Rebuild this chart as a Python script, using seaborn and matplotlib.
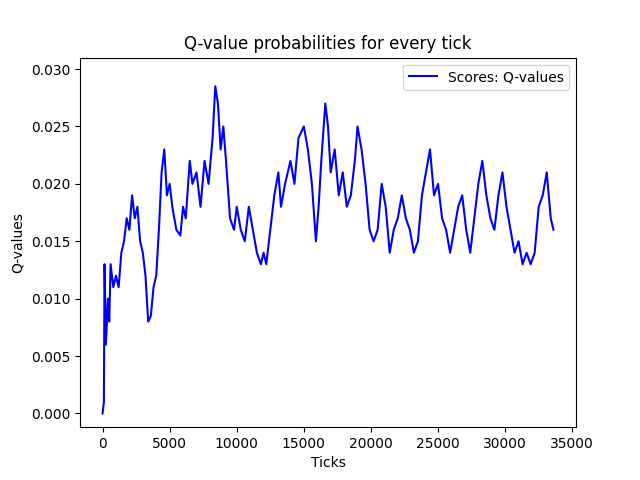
import matplotlib
matplotlib.use("Agg")
import matplotlib.pyplot as plt
import seaborn as sns
import pandas as pd

ticks = [0, 100, 150, 250, 400, 500, 600, 800, 1000, 1200, 1400, 1600, 1800, 2000, 2200, 2400, 2600, 2800, 3000, 3200,
         3400, 3600, 3800, 4000, 4200, 4400, 4600, 4800, 5000, 5200, 5500, 5800, 6000, 6200, 6500, 6700, 7000, 7300, 7600, 7900,
         8200, 8400, 8600, 8800, 9000, 9200, 9500, 9800, 10000, 10300, 10600, 10900, 11200, 11500, 11800, 12000, 12200, 12500, 12800, 13100,
         13300, 13600, 14000, 14300, 14600, 15000, 15300, 15600, 15900, 16100, 16300, 16600, 16800, 17000, 17300, 17600, 17900, 18200, 18500, 18800,
         19000, 19300, 19600, 19900, 20200, 20500, 20800, 21100, 21400, 21700, 22000, 22300, 22600, 22900, 23200, 23500, 23800, 24100, 24400, 24700,
         25000, 25300, 25600, 25900, 26200, 26500, 26800, 27100, 27400, 27700, 28000, 28300, 28600, 28900, 29200, 29500, 29800, 30100, 30400, 30700,
         31000, 31300, 31600, 31900, 32200, 32500, 32800, 33100, 33400, 33600]
qvalues = [0.000, 0.001, 0.013, 0.006, 0.010, 0.008, 0.013, 0.011, 0.012, 0.011, 0.014, 0.015, 0.017, 0.016, 0.019, 0.017, 0.018, 0.015, 0.014, 0.012,
           0.008, 0.0085, 0.011, 0.012, 0.016, 0.021, 0.023, 0.019, 0.020, 0.018, 0.016, 0.0155, 0.018, 0.017, 0.022, 0.020, 0.021, 0.018, 0.022, 0.020,
           0.024, 0.0285, 0.027, 0.023, 0.025, 0.022, 0.017, 0.016, 0.018, 0.016, 0.015, 0.018, 0.016, 0.014, 0.013, 0.014, 0.013, 0.016, 0.019, 0.021,
           0.018, 0.020, 0.022, 0.020, 0.024, 0.025, 0.023, 0.020, 0.015, 0.018, 0.022, 0.027, 0.025, 0.021, 0.023, 0.019, 0.021, 0.018, 0.019, 0.022,
           0.025, 0.023, 0.020, 0.016, 0.015, 0.016, 0.020, 0.018, 0.014, 0.016, 0.017, 0.019, 0.017, 0.016, 0.014, 0.015, 0.019, 0.021, 0.023, 0.019,
           0.020, 0.017, 0.016, 0.014, 0.016, 0.018, 0.019, 0.016, 0.014, 0.017, 0.020, 0.022, 0.019, 0.017, 0.016, 0.019, 0.021, 0.018, 0.016, 0.014,
           0.015, 0.013, 0.014, 0.013, 0.014, 0.018, 0.019, 0.021, 0.017, 0.016]

df = pd.DataFrame({"Ticks": ticks, "Q-values": qvalues})
fig, ax = plt.subplots(figsize=(6.4, 4.8), dpi=100)
sns.lineplot(data=df, x="Ticks", y="Q-values", color="blue", ax=ax, label="Scores: Q-values")
ax.set_ylim(-0.0012, 0.0310)
ax.set_title("Q-value probabilities for every tick")
ax.legend(loc="upper right")
fig.savefig("out.png")
